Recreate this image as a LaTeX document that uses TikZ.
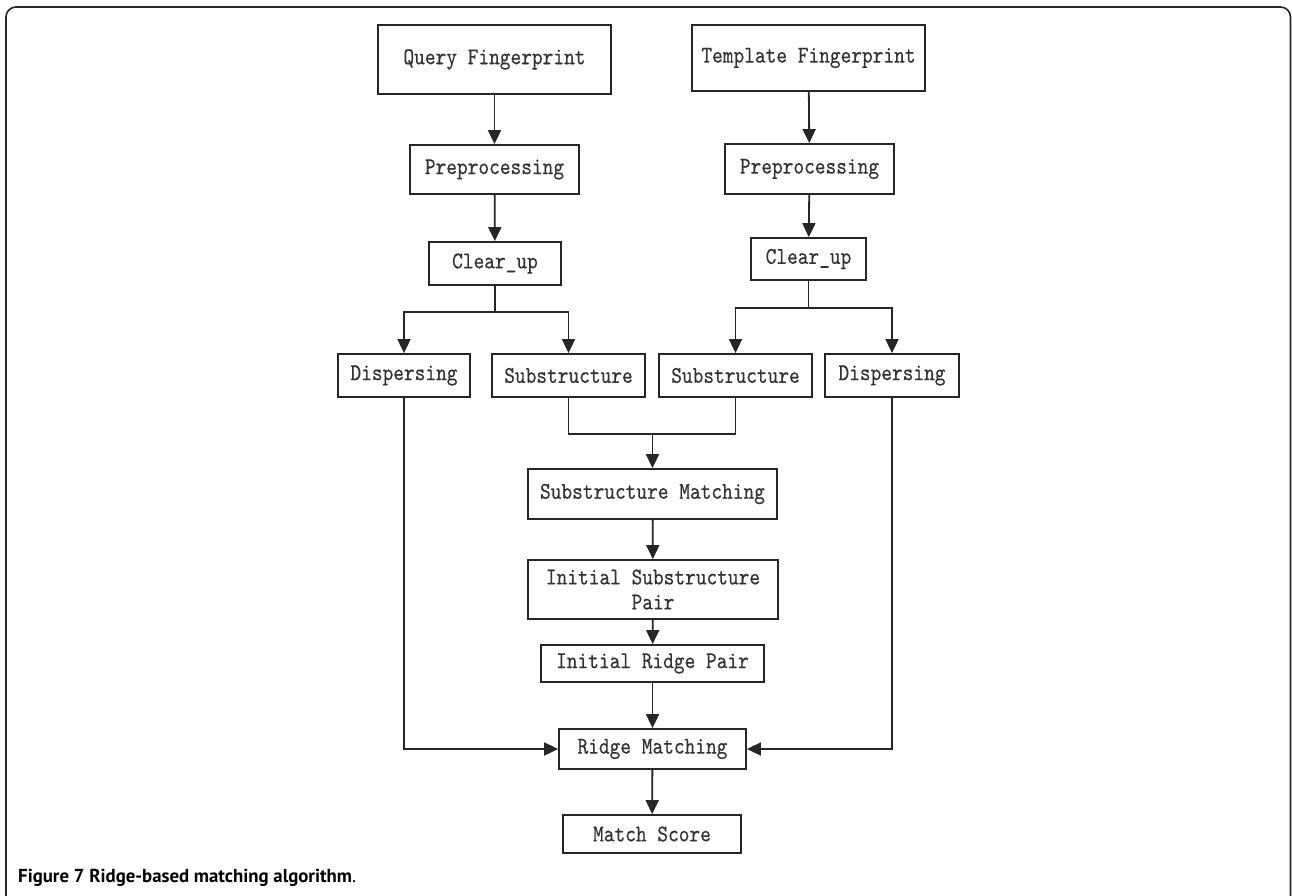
\documentclass[tikz,border=0pt]{standalone}
\usepackage{fontspec}
\newfontfamily\capfont{PT Sans}
\newfontfamily\boxfont{lmmono10-regular.otf}[FakeStretch=0.85,FakeBold=0.4]
\usetikzlibrary{arrows.meta}
\tikzset{
  box/.style={draw=black!85, line width=1.8pt, rectangle, inner sep=0pt, align=center,
    font=\boxfont\fontsize{24}{25}\selectfont, text=black!80},
  arr/.style={draw=black!85, line width=1.8pt, -{Triangle[length=14pt,width=13pt]}},
  ln/.style={draw=black!85, line width=1.8pt},
}
\begin{document}
\begin{tikzpicture}[x=1pt,y=-1pt]
\useasboundingbox (0,0) rectangle (1292,896);
\draw[line width=1.6pt, black!85, rounded corners=10pt] (6,905) -- (6,7) -- (1290.5,7) -- (1290.5,905);

\node[box, minimum width=233pt, minimum height=69pt] (qf) at (494.5,59.5) {Query Fingerprint};
\node[box, minimum width=233pt, minimum height=66pt] (tf) at (808.5,58) {Template Fingerprint};
\node[box, minimum width=169pt, minimum height=49pt] (ppL) at (494.5,169.5) {Preprocessing};
\node[box, minimum width=169pt, minimum height=50pt] (ppR) at (809.5,169) {Preprocessing};
\node[box, minimum width=132pt, minimum height=43pt] (cuL) at (495,263.5) {Clear\_up};
\node[box, minimum width=115pt, minimum height=42pt] (cuR) at (808.5,259) {Clear\_up};
\node[box, minimum width=132pt, minimum height=43pt] (dL) at (404,375.5) {Dispersing};
\node[box, minimum width=153pt, minimum height=43pt] (sL) at (568.5,375.5) {Substructure};
\node[box, minimum width=153pt, minimum height=43pt] (sR) at (735.5,375.5) {Substructure};
\node[box, minimum width=134pt, minimum height=43pt] (dR) at (892,375.5) {Dispersing};
\node[box, minimum width=249pt, minimum height=50pt] (sm) at (652.5,494) {Substructure Matching};
\node[box, minimum width=250pt, minimum height=59pt] (isp) at (653,589.5) {Initial Substructure\\Pair};
\node[box, minimum width=223pt, minimum height=37pt] (irp) at (652.5,663.5) {Initial Ridge Pair};
\node[box, minimum width=187pt, minimum height=40pt] (rm) at (652.5,749) {Ridge Matching};
\node[box, minimum width=178pt, minimum height=38pt] (ms) at (652,834) {Match Score};

\coordinate (jL) at (495,312);
\coordinate (jR) at (808.5,308);
\coordinate (jM) at (652.5,434);

\draw[arr] (qf) -- (ppL);
\draw[arr] (tf) -- (ppR);
\draw[arr] (ppL) -- (cuL);
\draw[arr] (ppR) -- (cuR);

\draw[ln] (cuL.south) -- (jL);
\draw[arr] (jL) -| (dL.north);
\draw[arr] (jL) -| (sL.north);
\draw[ln] (cuR.south) -- (jR);
\draw[arr] (jR) -| (sR.north);
\draw[arr] (jR) -| (dR.north);

\draw[ln] (sL.south) |- (jM);
\draw[ln] (sR.south) |- (jM);
\draw[arr] (jM) -- (sm.north);
\draw[arr] (sm) -- (isp);
\draw[arr] (isp) -- (irp);
\draw[arr] (irp) -- (rm);
\draw[arr] (rm) -- (ms);
\draw[arr] (dL.south) |- (rm.west);
\draw[arr] (dR.south) |- (rm.east);

\node[anchor=base west, inner sep=0pt, font=\capfont\fontsize{18.8}{22}\selectfont] (cap) at (18,882)
  {\textbf{Figure 7 Ridge-based matching algorithm}.};
\end{tikzpicture}
\end{document}
